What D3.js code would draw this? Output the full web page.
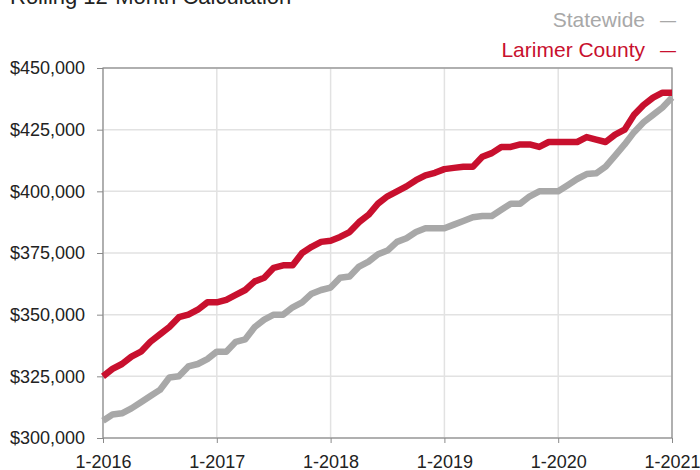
<!DOCTYPE html>
<html>
<head>
<meta charset="utf-8">
<script src="https://cdn.jsdelivr.net/npm/d3@7"></script>
<style>
  html, body { margin: 0; padding: 0; background: #fff; }
  svg { display: block; font-family: "Liberation Sans", Arial, Helvetica, sans-serif; }
</style>
</head>
<body>
<div id="chart"></div>
<script>
// monthly values, 1-2016 .. 1-2021 (in $1000s)
const larimer = [
  325, 328, 330, 333, 335, 339, 342, 345, 349, 350, 352, 355,
  355, 356, 358, 360, 363.5, 365, 369, 370, 370, 375, 377.5, 379.5,
  380, 381.5, 383.5, 387.5, 390.5, 395, 398, 400, 402, 404.5, 406.5, 407.5,
  409, 409.5, 410, 410, 414, 415.5, 418, 418, 419, 419, 418, 420,
  420, 420, 420, 422, 421, 420, 423, 425, 431, 435, 438, 440,
  440
];
const statewide = [
  307, 309.5, 310, 312, 314.5, 317, 319.5, 324.5, 325, 329, 330, 332,
  335, 335, 339, 340, 345, 348, 350, 350, 353, 355, 358.5, 360,
  361, 365, 365.5, 369.5, 371.5, 374.5, 376, 379.5, 381, 383.5, 385, 385,
  385, 386.5, 388, 389.5, 390, 390, 392.5, 395, 395, 398, 400, 400,
  400, 402.5, 405, 407, 407.3, 410, 414.5, 419, 424, 428, 431, 434,
  438
];
const xTickLabels = ['1-2016', '1-2017', '1-2018', '1-2019', '1-2020', '1-2021'];
const yTicks = [300000, 325000, 350000, 375000, 400000, 425000, 450000];
const seriesNames = ['Statewide', 'Larimer County'];
const title = 'Rolling 12-Month Calculation';

const width = 700, height = 470;
const margin = {top: 68, right: 28, bottom: 32, left: 103};
const innerW = width - margin.left - margin.right;
const innerH = height - margin.top - margin.bottom;

const RED = '#c8102e', GRAY = '#a8a8a8', AXIS = '#8a8a8a', GRID = '#e2e2e2';

const svg = d3.select('#chart').append('svg')
  .attr('width', width)
  .attr('height', height);

svg.append('text')
  .attr('x', 10).attr('y', 4)
  .attr('font-size', 22)
  .attr('fill', '#222')
  .text(title);

const x = d3.scaleLinear().domain([0, larimer.length - 1]).range([0, innerW]);
const y = d3.scaleLinear().domain([300000, 450000]).range([innerH, 0]);
const xTicks = xTickLabels.map((d, i) => i * 12);

const g = svg.append('g').attr('transform', `translate(${margin.left},${margin.top})`);

// grid
g.append('g').selectAll('line').data(yTicks).join('line')
  .attr('x1', 0).attr('x2', innerW)
  .attr('y1', d => y(d)).attr('y2', d => y(d))
  .attr('stroke', GRID).attr('stroke-width', 1.5);
g.append('g').selectAll('line').data(xTicks).join('line')
  .attr('y1', 0).attr('y2', innerH)
  .attr('x1', d => x(d)).attr('x2', d => x(d))
  .attr('stroke', GRID).attr('stroke-width', 1.5);

// axes
const yAxis = g.append('g')
  .call(d3.axisLeft(y).tickValues(yTicks).tickSize(6).tickPadding(12)
    .tickFormat(d => '$' + d3.format(',')(d)));
const xAxis = g.append('g')
  .attr('transform', `translate(0,${innerH})`)
  .call(d3.axisBottom(x).tickValues(xTicks).tickSize(5).tickPadding(12)
    .tickFormat((d, i) => xTickLabels[i]));
[yAxis, xAxis].forEach(a => {
  a.select('.domain').remove();
  a.selectAll('line').attr('stroke', AXIS);
  a.selectAll('text').attr('font-size', 18).attr('fill', '#222')
    .attr('font-family', '"Liberation Sans", Arial, sans-serif');
});

// border box
g.append('rect')
  .attr('width', innerW).attr('height', innerH)
  .attr('fill', 'none').attr('stroke', AXIS).attr('stroke-width', 1.2);

// lines
const line = d3.line().x((d, i) => x(i)).y(d => y(d * 1000));
g.append('path').datum(statewide)
  .attr('d', line).attr('fill', 'none')
  .attr('stroke', GRAY).attr('stroke-width', 6.5).attr('stroke-linejoin', 'round');
g.append('path').datum(larimer)
  .attr('d', line).attr('fill', 'none')
  .attr('stroke', RED).attr('stroke-width', 6.5).attr('stroke-linejoin', 'round');

// legend
const legend = svg.append('g');
[[seriesNames[0], GRAY, 27], [seriesNames[1], RED, 57]].forEach(([name, col, yy]) => {
  legend.append('text')
    .attr('x', 645).attr('y', yy)
    .attr('text-anchor', 'end')
    .attr('font-size', 21)
    .attr('fill', col)
    .text(name);
  legend.append('text')
    .attr('x', 660).attr('y', yy - 1)
    .attr('font-size', 16)
    .attr('fill', col)
    .text('—');
});
</script>
</body>
</html>
